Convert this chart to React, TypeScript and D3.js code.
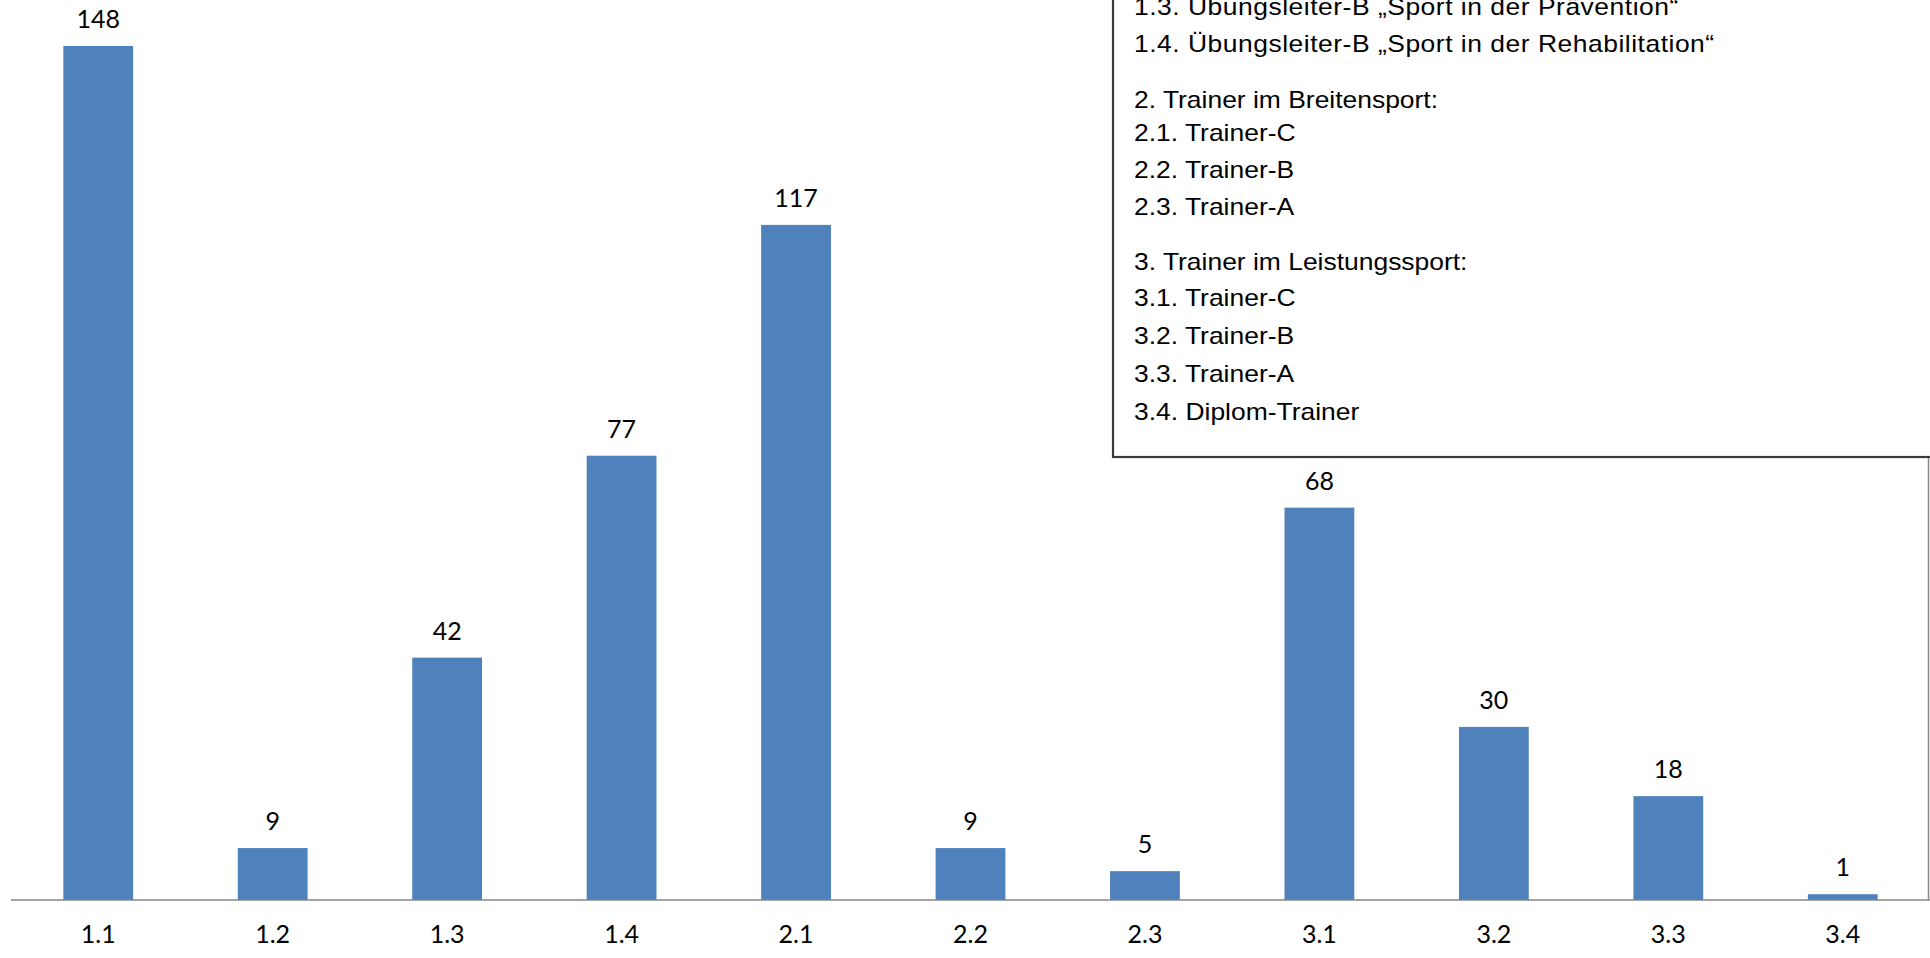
import React from "react";
import * as d3 from "d3";

const categories = ["1.1", "1.2", "1.3", "1.4", "2.1", "2.2", "2.3", "3.1", "3.2", "3.3", "3.4"];
const values = [148, 9, 42, 77, 117, 9, 5, 68, 30, 18, 1];

const legendLines = [
  { text: "1.3. Übungsleiter-B „Sport in der Prävention“", y: 15 },
  { text: "1.4. Übungsleiter-B „Sport in der Rehabilitation“", y: 52 },
  { text: "2. Trainer im Breitensport:", y: 108 },
  { text: "2.1. Trainer-C", y: 141 },
  { text: "2.2. Trainer-B", y: 178 },
  { text: "2.3. Trainer-A", y: 215 },
  { text: "3. Trainer im Leistungssport:", y: 270 },
  { text: "3.1. Trainer-C", y: 306 },
  { text: "3.2. Trainer-B", y: 344 },
  { text: "3.3. Trainer-A", y: 382 },
  { text: "3.4. Diplom-Trainer", y: 420 },
];

const W = 1930;
const H = 958;
const axisY = 900;

export default function App() {
  const x = d3
    .scaleBand<string>()
    .domain(categories)
    .range([11, 1930])
    .paddingInner(0.6)
    .paddingOuter(0.3);
  const y = d3.scaleLinear().domain([0, 148]).range([axisY, 46]);
  const numFont = "Lato, 'Noto Sans', sans-serif";
  const legFont = "'Liberation Sans', Arial, sans-serif";

  return (
    <svg
      width={W}
      height={H}
      style={{ position: "absolute", left: 0, top: 0, background: "#fff" }}
    >
      <rect x={0} y={0} width={W} height={H} fill="#fff" />
      {categories.map((c, i) => (
        <rect
          key={c}
          x={x(c)}
          y={y(values[i])}
          width={x.bandwidth()}
          height={axisY - y(values[i])}
          fill="#4F81BD"
        />
      ))}
      {categories.map((c, i) => (
        <text
          key={"v" + c}
          x={(x(c) as number) + x.bandwidth() / 2}
          y={y(values[i]) - 18}
          textAnchor="middle"
          fontFamily={numFont}
          fontSize={25}
          fill="#000"
        >
          {values[i]}
        </text>
      ))}
      <line x1={11} x2={W} y1={axisY} y2={axisY} stroke="#868686" strokeWidth={1.5} />
      <line x1={1928.5} x2={1928.5} y1={457} y2={axisY} stroke="#868686" strokeWidth={1.5} />
      {categories.map((c) => (
        <text
          key={"t" + c}
          x={(x(c) as number) + x.bandwidth() / 2}
          y={943}
          textAnchor="middle"
          fontFamily={numFont}
          fontSize={25}
          fill="#000"
        >
          {c}
        </text>
      ))}
      <rect x={1113} y={-10} width={900} height={467} fill="#fff" stroke="#3a3a3a" strokeWidth={2.2} />
      <g transform="translate(1134,0) scale(1.15,1)">
        {legendLines.map((l) => (
          <text
            key={l.text}
            x={0}
            y={l.y}
            fontFamily={legFont}
            fontSize={23}
            letterSpacing={l.text.startsWith("1.") ? 0.45 : 0}
            fill="#000"
          >
            {l.text}
          </text>
        ))}
      </g>
    </svg>
  );
}
